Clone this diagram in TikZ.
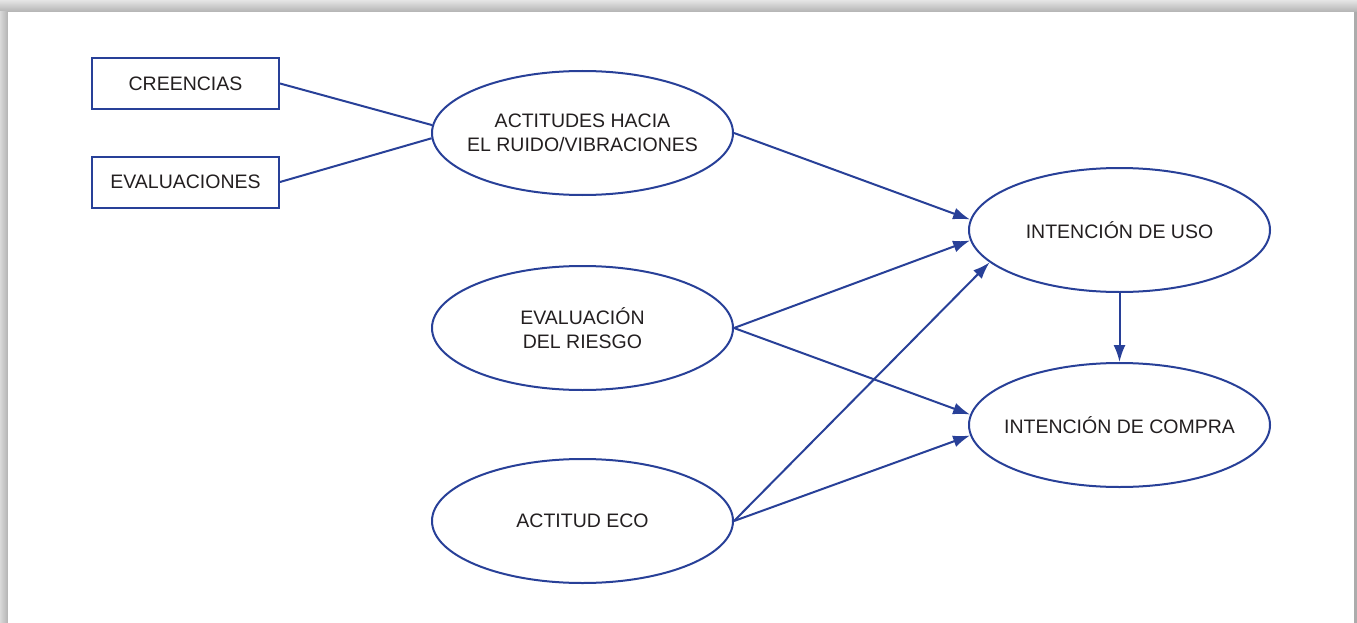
\documentclass[tikz,border=0pt]{standalone}
\usepackage{fontspec}
\setmainfont{Liberation Sans}
\usetikzlibrary{shapes.geometric,arrows.meta}
\definecolor{lineblue}{RGB}{40,64,152}
\definecolor{textgray}{RGB}{35,31,32}
\tikzset{>={Latex[length=17pt,width=12pt]}}
\tikzset{
    factor/.style={draw=lineblue, line width=2pt, text=textgray, rectangle,
        minimum width=187pt, minimum height=51pt, inner sep=0pt,
        font=\fontsize{19.5}{24}\selectfont},
    construct/.style={draw=lineblue, line width=2pt, text=textgray, ellipse,
        minimum width=301pt, minimum height=124pt, inner xsep=-15pt, inner ysep=0pt,
        align=center, font=\fontsize{19.5}{24}\selectfont},
    link/.style={draw=lineblue, line width=2pt}
}

\begin{document}
\begin{tikzpicture}[x=1pt, y=-1pt]

    \useasboundingbox (0,0) rectangle (1357,623);

    % panel with its shadow
    \fill[gray!40] (0,0) rectangle (1357,623);
    \shade[top color=gray!20, bottom color=gray!60] (0,0) rectangle (1357,12);
    \shade[left color=gray!30, right color=gray!60] (0,12) rectangle (8,623);
    \fill[gray!65] (1354,12) rectangle (1357,623);
    \fill[white] (8,12) rectangle (1354,623);

    \node[factor] (creencias) at (185.5,83.5) {CREENCIAS};
    \node[factor] (evaluaciones) at (185.5,182) {EVALUACIONES};

    \node[construct] (ruido) at (582.5,133) {ACTITUDES HACIA\\EL RUIDO/VIBRACIONES};
    \node[construct] (riesgo) at (582.5,328) {EVALUACIÓN\\DEL RIESGO};
    \node[construct] (eco) at (582.5,521) {ACTITUD ECO};

    \node[construct] (uso) at (1119.5,230) {INTENCIÓN DE USO};
    \node[construct] (compra) at (1119.5,425) {INTENCIÓN DE COMPRA};

    \draw[link] (creencias.east) -- (ruido.177.5);
    \draw[link] (evaluaciones.east) -- (ruido.182.5);

    \draw[link,->] (ruido.east) -- (uso.176);
    \draw[link,->] (riesgo.east) -- (uso.184);
    \draw[link,->] (riesgo.east) -- (compra.176);
    \draw[link,->] (eco.east) -- (uso.194);
    \draw[link,->] (eco.east) -- (compra.184);

    \draw[link,->] (uso.south) -- (compra.north);

\end{tikzpicture}
\end{document}
